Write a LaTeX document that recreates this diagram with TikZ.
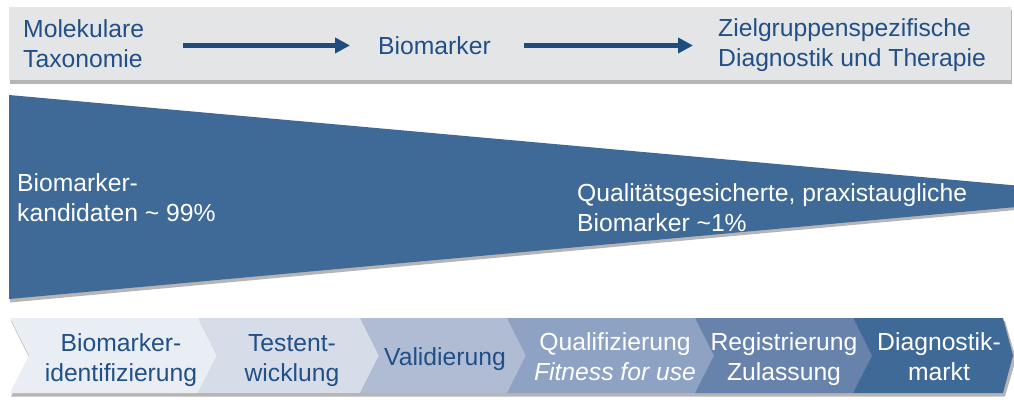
\documentclass[tikz,border=0pt]{standalone}
\usepackage{fontspec}
\setmainfont{Liberation Sans}
\usetikzlibrary{arrows.meta}
\definecolor{barbg}{HTML}{E3E5E6}
\definecolor{darkblue}{HTML}{224F86}
\definecolor{arrowblue}{HTML}{1F4B7E}
\definecolor{funnelblue}{HTML}{3F6A98}
\definecolor{chA}{HTML}{E9EDF4}
\definecolor{chB}{HTML}{D6DDE9}
\definecolor{chC}{HTML}{AFBCD4}
\definecolor{chD}{HTML}{8EA2C4}
\definecolor{chE}{HTML}{6783AC}
\definecolor{chF}{HTML}{3F6A98}
\definecolor{shade}{HTML}{7A7676}
\begin{document}
\begin{tikzpicture}[x=1pt,y=-1pt,
  txt/.style={inner sep=0pt, font=\fontsize{24.7}{30}\selectfont},
  bluetxt/.style={txt, text=darkblue},
  whitetxt/.style={txt, text=white},
  flowarrow/.style={draw=arrowblue, line width=5pt, -{Triangle[length=15pt,width=15pt]}},
  softshadow/.style={fill=shade, opacity=0.55}]
\useasboundingbox (0,0) rectangle (1014,399);
\begin{scope}
\clip (0,0) rectangle (1014,399);

% top bar with its shadow
\fill[softshadow] (10,10) rectangle (1012,83.5);
\fill[barbg] (9,7) rectangle (1011,80);

% funnel with its shadow
\fill[softshadow] (10,98) -- (1016,188) -- (1016,210) -- (10,302.5) -- cycle;
\fill[funnelblue] (9,95) -- (1016,185.5) -- (1016,207) -- (9,299) -- cycle;

% process chevrons with a shadow under the strip
\fill[softshadow] (11,321) -- (1005,321) -- (1016,359) -- (1005,396.5) -- (11,396.5) -- (30,359) -- cycle;
\fill[chA] (10,318) -- (198,318) -- (217,355.5) -- (198,393) -- (10,393) -- (29,355.5) -- cycle;
\fill[chB] (198,318) -- (360,318) -- (379,355.5) -- (360,393) -- (198,393) -- (217,355.5) -- cycle;
\fill[chC] (360,318) -- (507,318) -- (526,355.5) -- (507,393) -- (360,393) -- (379,355.5) -- cycle;
\fill[chD] (507,318) -- (695,318) -- (714,355.5) -- (695,393) -- (507,393) -- (526,355.5) -- cycle;
\fill[chE] (695,318) -- (853,318) -- (872,355.5) -- (853,393) -- (695,393) -- (714,355.5) -- cycle;
\fill[chF] (853,318) -- (1003,318) -- (1013,355.5) -- (1003,393) -- (853,393) -- (872,355.5) -- cycle;
\end{scope}

% top bar labels (base anchor sits on the last line)
\node[bluetxt, anchor=base west, align=left] (mol) at (23,67.7) {Molekulare\\Taxonomie};
\node[bluetxt, anchor=base west] (bio) at (378,54.3) {Biomarker};
\node[bluetxt, anchor=base west, align=left] (ziel) at (718,66.5) {Zielgruppenspezifische\\Diagnostik und Therapie};

\draw[flowarrow, shorten <=39pt, shorten >=28pt] (mol.east |- bio.center) -- (bio.center -| bio.west);
\draw[flowarrow, shorten <=33pt, shorten >=25pt] (bio.center -| bio.east) -- (bio.center -| ziel.west);

% funnel labels
\node[whitetxt, anchor=base west, align=left] (cand) at (17,221.5) {Biomarker-\\kandidaten \textasciitilde{} 99\%};
\node[whitetxt, anchor=base west, align=left] (qual) at (577,231.5) {Qualitätsgesicherte, praxistaugliche\\Biomarker \textasciitilde1\%};

% chevron labels
\node[bluetxt, anchor=base, align=center] (s1) at (121,381) {Biomarker-\\identifizierung};
\node[bluetxt, anchor=base, align=center] (s2) at (292,381) {Testent-\\wicklung};
\node[bluetxt, anchor=base] (s3) at (445,365) {Validierung};
\node[whitetxt, anchor=base, align=center] (s4) at (615,380.5) {Qualifizierung\\\textit{Fitness for use}};
\node[whitetxt, anchor=base, align=center] (s5) at (784,380.5) {Registrierung\\Zulassung};
\node[whitetxt, anchor=base, align=center] (s6) at (939,380.5) {Diagnostik-\\markt};
\end{tikzpicture}
\end{document}
